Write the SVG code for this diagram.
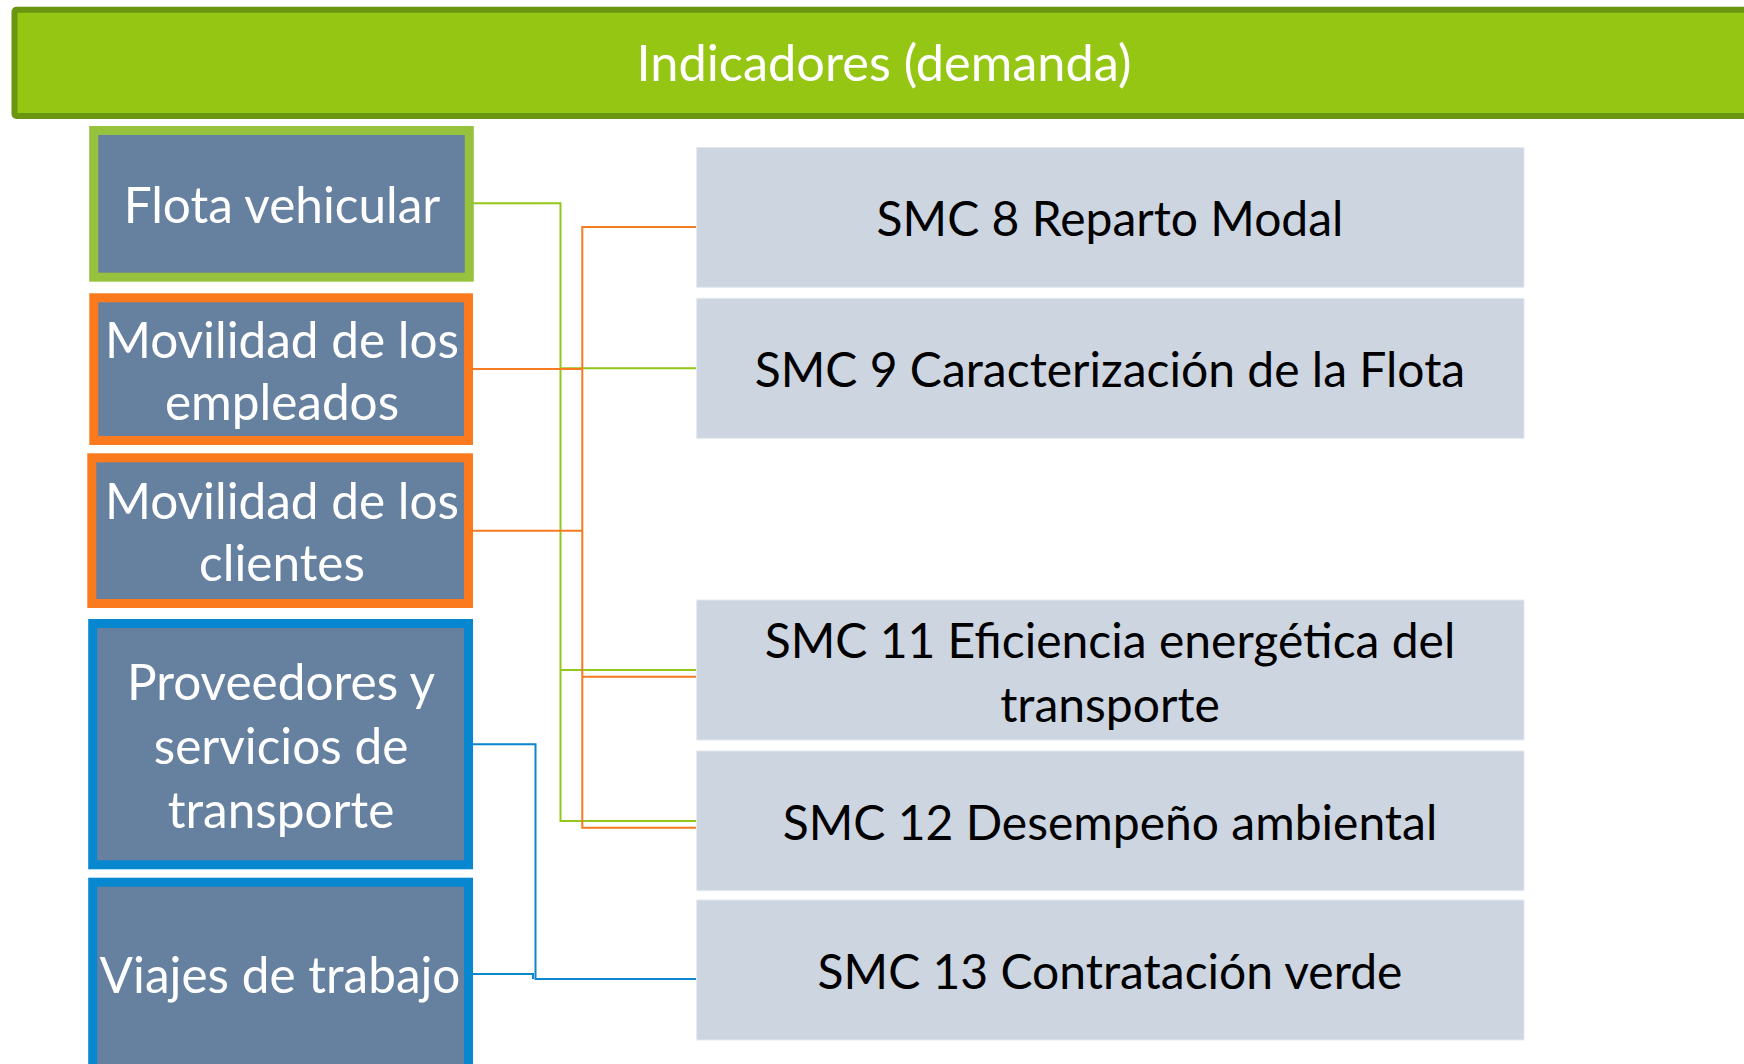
<svg xmlns="http://www.w3.org/2000/svg" width="1744" height="1064" viewBox="0 0 1744 1064">
<style>
.lbl{font-family:Lato,"Liberation Sans",sans-serif;font-size:49.5px;fill:#ffffff;text-anchor:middle}
.hdr{font-family:Lato,"Liberation Sans",sans-serif;font-size:50.5px;fill:#ffffff;text-anchor:middle}
.smc{font-family:Lato,"Liberation Sans",sans-serif;font-size:48px;fill:#000000;text-anchor:middle}
.src{fill:#66809f;stroke-width:9}
.box{fill:#cdd5e0;stroke:#e4e9f0;stroke-width:1}
.c{fill:none;stroke-width:2}
</style>
<rect width="1744" height="1064" fill="#ffffff"/>
<g id="header">
<rect x="14.5" y="9.7" width="1760" height="106.3" rx="2" fill="#96c614" stroke="#6a9510" stroke-width="6"/>
<text x="884" y="81" class="hdr">Indicadores (demanda)</text>
</g>
<g id="connectors">
<path class="c" stroke="#92c81a" d="M473,203.3 H560.5 V821 H696 M560.5,368.3 H696 M560.5,670 H696"/>
<path class="c" stroke="#f47b20" d="M473,369 H582.3 M473,530.7 H582.3 M696,227 H582.3 V827.7 H696 M582.3,676.7 H696"/>
<path class="c" stroke="#0b87d0" d="M473,744.3 H535.5 V979 H696 M473,974 H533 V979"/>
</g>
<g id="flota">
<rect class="src" stroke="#97c23d" x="93.7" y="130.5" width="375.6" height="146.7"/>
<text class="lbl" x="282" y="223">Flota vehicular</text>
</g>
<g id="empleados">
<rect class="src" stroke="#fb7a1e" x="93.8" y="297.8" width="374.7" height="142.7"/>
<text class="lbl" x="282" y="358">Movilidad de los</text>
<text class="lbl" x="282" y="420">empleados</text>
</g>
<g id="clientes">
<rect class="src" stroke="#fb7a1e" x="91.8" y="457.8" width="376.7" height="145.7"/>
<text class="lbl" x="282" y="519">Movilidad de los</text>
<text class="lbl" x="282" y="581">clientes</text>
</g>
<g id="proveedores">
<rect class="src" stroke="#0787d0" x="92.7" y="623.5" width="375.8" height="241.3"/>
<text class="lbl" x="281" y="700">Proveedores y</text>
<text class="lbl" x="281" y="764">servicios de</text>
<text class="lbl" x="281" y="828">transporte</text>
</g>
<g id="viajes">
<rect class="src" stroke="#0787d0" x="92.7" y="882.2" width="375.8" height="190"/>
<text class="lbl" x="280" y="993">Viajes de trabajo</text>
</g>
<g id="smc8">
<rect class="box" x="696.7" y="147.5" width="827.3" height="139.8"/>
<text class="smc" x="1110" y="236">SMC 8 Reparto Modal</text>
</g>
<g id="smc9">
<rect class="box" x="696.7" y="298.3" width="827.3" height="140"/>
<text class="smc" x="1110" y="387">SMC 9 Caracterización de la Flota</text>
</g>
<g id="smc11">
<rect class="box" x="696.7" y="600" width="827.3" height="140"/>
<text class="smc" x="1110" y="658">SMC 11 Eficiencia energética del</text>
<text class="smc" x="1110" y="722">transporte</text>
</g>
<g id="smc12">
<rect class="box" x="696.7" y="751" width="827.3" height="139.7"/>
<text class="smc" x="1110" y="840">SMC 12 Desempeño ambiental</text>
</g>
<g id="smc13">
<rect class="box" x="696.7" y="900" width="827.3" height="140"/>
<text class="smc" x="1110" y="989">SMC 13 Contratación verde</text>
</g>
</svg>
